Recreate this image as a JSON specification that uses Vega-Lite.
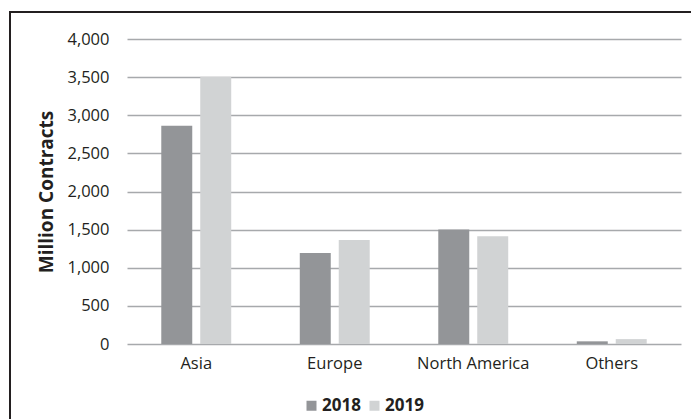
{
  "$schema": "https://vega.github.io/schema/vega-lite/v6.json",
  "padding": {"left": 10, "top": 12, "right": 0, "bottom": 0},
  "width": 682,
  "height": 408,
  "data": {
    "values": [
      {"region": "Asia", "year": "2018", "contracts": 2863},
      {"region": "Asia", "year": "2019", "contracts": 3505},
      {"region": "Europe", "year": "2018", "contracts": 1193},
      {"region": "Europe", "year": "2019", "contracts": 1364},
      {"region": "North America", "year": "2018", "contracts": 1502},
      {"region": "North America", "year": "2019", "contracts": 1414},
      {"region": "Others", "year": "2018", "contracts": 35},
      {"region": "Others", "year": "2019", "contracts": 64}
    ]
  },
  "mark": {"type": "bar"},
  "encoding": {
    "x": {
      "field": "region",
      "type": "nominal",
      "sort": ["Asia", "Europe", "North America", "Others"],
      "scale": {"range": [117, 671], "paddingInner": 0.495, "paddingOuter": 0.2475},
      "axis": {
        "title": null,
        "orient": "bottom",
        "offset": -76,
        "domain": false,
        "ticks": false,
        "grid": false,
        "labelAngle": 0,
        "labelPadding": 11,
        "labelFontSize": 16.5,
        "labelColor": "#231f20"
      }
    },
    "xOffset": {
      "field": "year",
      "type": "nominal",
      "scale": {"paddingInner": 0.205, "paddingOuter": 0}
    },
    "y": {
      "field": "contracts",
      "type": "quantitative",
      "scale": {"domain": [0, 4000], "range": [332, 27], "nice": false},
      "axis": {
        "title": "Million Contracts",
        "orient": "left",
        "offset": -117,
        "values": [0, 500, 1000, 1500, 2000, 2500, 3000, 3500, 4000],
        "format": ",.0f",
        "domain": false,
        "ticks": false,
        "grid": true,
        "gridColor": "#a7a9ac",
        "gridWidth": 1.5,
        "labelPadding": 18,
        "labelFontSize": 16.5,
        "labelColor": "#231f20",
        "titleFontSize": 19,
        "titleFontWeight": "bold",
        "titleColor": "#231f20",
        "titlePadding": 10
      }
    },
    "color": {
      "field": "year",
      "type": "nominal",
      "scale": {"domain": ["2018", "2019"], "range": ["#939598", "#d1d3d4"]},
      "legend": {
        "title": null,
        "orient": "none",
        "legendX": 293,
        "legendY": 385,
        "direction": "horizontal",
        "symbolType": "square",
        "symbolSize": 100,
        "symbolStrokeWidth": 0,
        "labelFontSize": 17,
        "labelFontWeight": "bold",
        "labelColor": "#231f20",
        "labelOffset": 2,
        "columnPadding": 5
      }
    }
  },
  "config": {
    "font": "Open Sans",
    "view": {"stroke": "#231f20", "strokeWidth": 2},
    "background": "white"
  }
}
